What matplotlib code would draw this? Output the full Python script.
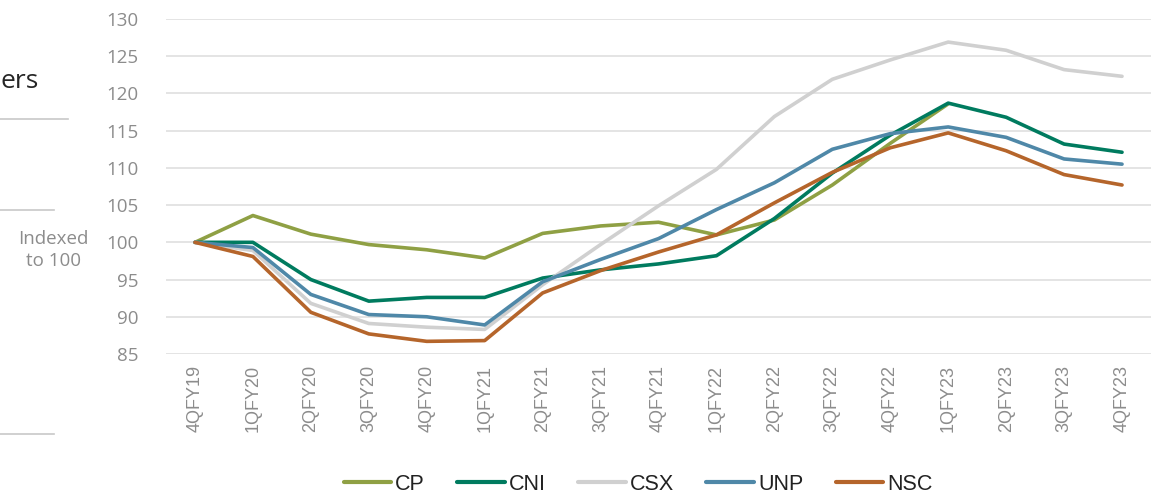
import numpy as np
import matplotlib
matplotlib.use("Agg")
import matplotlib.pyplot as plt
from matplotlib.lines import Line2D

quarters = ["4QFY19", "1QFY20", "2QFY20", "3QFY20", "4QFY20", "1QFY21", "2QFY21",
            "3QFY21", "4QFY21", "1QFY22", "2QFY22", "3QFY22", "4QFY22", "1QFY23",
            "2QFY23", "3QFY23", "4QFY23"]

cp = [100, 103.6, 101.1, 99.7, 99.0, 97.9, 101.2, 102.2, 102.7, 101.0, 103.0,
      107.7, 113.3, 118.6, np.nan, np.nan, np.nan]
cni = [100, 100.0, 95.0, 92.1, 92.6, 92.6, 95.2, 96.3, 97.1, 98.2, 103.2,
       109.3, 114.4, 118.7, 116.8, 113.2, 112.1]
csx = [100, 98.9, 91.8, 89.1, 88.6, 88.3, 94.3, 99.7, 104.9, 109.8, 116.9,
       121.9, 124.5, 126.9, 125.8, 123.2, 122.3]
unp = [100, 99.3, 93.0, 90.3, 90.0, 88.9, 94.7, 97.7, 100.5, 104.4, 108.0,
       112.5, 114.6, 115.5, 114.1, 111.2, 110.5]
nsc = [100, 98.1, 90.6, 87.7, 86.7, 86.8, 93.2, 96.2, 98.7, 101.0, 105.3,
       109.4, 112.7, 114.7, 112.3, 109.1, 107.7]

series = [("CP", cp, "#8fa044"), ("CNI", cni, "#007b5f"), ("CSX", csx, "#d0d0d0"),
          ("UNP", unp, "#4f88a8"), ("NSC", nsc, "#b5652b")]

grey = "#8c8c8c"

fig = plt.figure(figsize=(11.54, 4.96), dpi=100)
ax = fig.add_axes([166 / 1154, 1 - 354 / 496, 985 / 1154, 335 / 496])

x = np.arange(len(quarters))
for name, vals, col in series:
    ax.plot(x, vals, color=col, lw=2.6, label=name, solid_capstyle="round")

ax.set_xlim(-0.5, len(quarters) - 0.5)
ax.set_ylim(85, 130)
ax.set_yticks(np.arange(85, 131, 5))
ax.yaxis.grid(True, color="#e2e2e2", lw=1.3)
ax.set_axisbelow(True)
for s in ax.spines.values():
    s.set_visible(False)
ax.tick_params(length=0)
ax.tick_params(axis="y", pad=20, labelsize=13.5, labelcolor=grey)
ax.set_yticklabels([str(v) for v in range(85, 131, 5)], family="Open Sans")
ax.set_xticks(x)
ax.set_xticklabels(quarters, rotation=90, family="Liberation Sans", fontsize=13, color=grey)
ax.tick_params(axis="x", pad=8)

leg = fig.legend(loc="center", bbox_to_anchor=(0.553, 1 - 484 / 496), ncol=5, frameon=False,
                 handlelength=2.2, columnspacing=1.5, handletextpad=0.2,
                 prop={"family": "Liberation Sans", "size": 15.5})
for t in leg.get_texts():
    t.set_color("#222222")
for h in leg.get_lines():
    h.set_linewidth(3)

# pieces of the surrounding slide
fig.text(0.0, 1 - 82 / 496, "ers", fontsize=19, color="#262626", va="center", ha="left",
         family="Open Sans")
fig.text(53 / 1154, 1 - 250 / 496, "Indexed\nto 100", fontsize=13.5, color=grey,
         va="center", ha="center", family="Open Sans", linespacing=1.25)
for yy, x1 in [(119, 68), (210, 54), (434, 54)]:
    fig.add_artist(Line2D([0, x1 / 1154], [1 - yy / 496] * 2, color="#c8c8c8", lw=1.2))

fig.savefig("out.png", dpi=100)
